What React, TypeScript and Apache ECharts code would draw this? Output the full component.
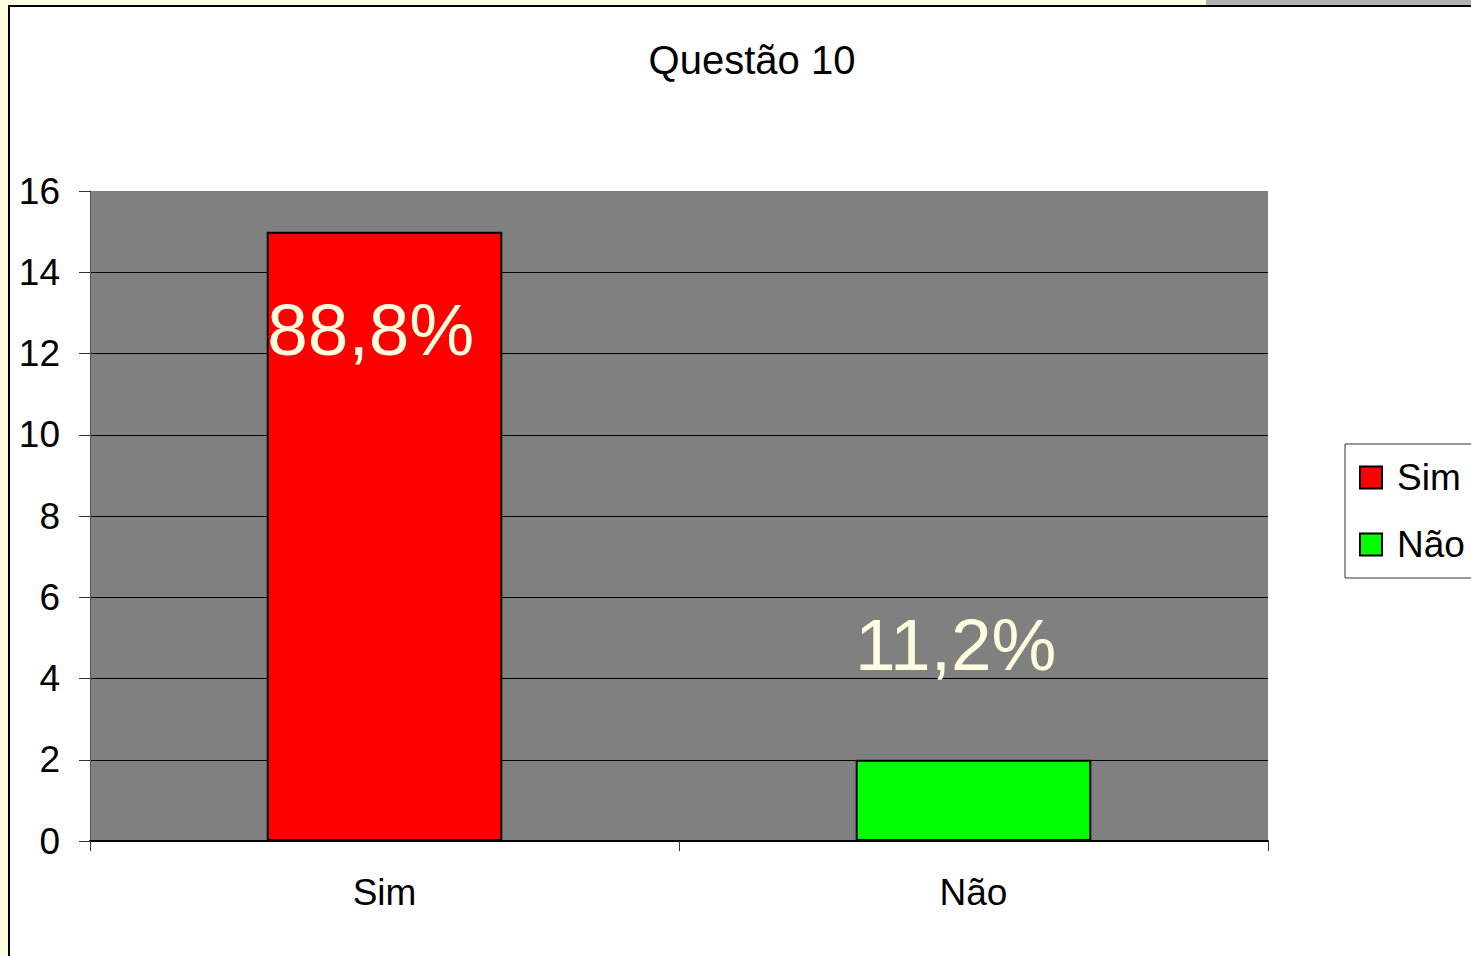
import React, { useEffect, useRef } from "react";
import * as echarts from "echarts";

const categories = ["Sim", "Não"];
const simValues = [15, "-"];
const naoValues = ["-", 2];
const pctLabels = ["88,8%", "11,2%"];
const titleText = "Questão 10";

export default function App() {
  const ref = useRef<HTMLDivElement>(null);
  useEffect(() => {
    if (!ref.current) return;
    const chart = echarts.init(ref.current, null, { renderer: "svg" });
    const font = "'Liberation Sans', Arial, Helvetica, sans-serif";
    const splitColors = ["#000", "#000", "#000", "#000", "#000", "#000", "#000", "#000", "#808080"];
    chart.setOption({
      animation: false,
      backgroundColor: "#FFFFE0",
      textStyle: { fontFamily: font },
      graphic: [
        { type: "rect", z: -10, shape: { x: 1206, y: 0, width: 270, height: 6 }, style: { fill: "#B2B2B2" } },
        { type: "rect", z: -9, shape: { x: 9, y: 6, width: 1480, height: 970 }, style: { fill: "#FFFFFF", stroke: "#000", lineWidth: 2 } },
      ],
      title: {
        text: titleText,
        left: 747,
        textAlign: "center",
        top: 35,
        textStyle: { fontSize: 40, fontWeight: "normal", color: "#000", fontFamily: font },
      },
      legend: {
        data: categories,
        orient: "vertical",
        left: 1345,
        top: 444,
        padding: [15, 20, 15, 14],
        itemWidth: 22,
        itemHeight: 22,
        itemGap: 30,
        icon: "rect",
        borderColor: "#333",
        borderWidth: 1,
        backgroundColor: "#FFFFFF",
        textStyle: { fontSize: 37, color: "#000", fontFamily: font, padding: [0, 0, 0, 10] },
      },
      grid: {
        left: 90,
        top: 191,
        right: 203,
        bottom: 115,
        show: true,
        backgroundColor: "#808080",
        borderWidth: 0,
      },
      xAxis: {
        type: "category",
        data: categories,
        axisLine: { show: true, lineStyle: { color: "#000", width: 2 } },
        axisTick: { show: true, length: 10, lineStyle: { color: "#333" } },
        axisLabel: { fontSize: 37, color: "#000", margin: 33, fontFamily: font },
      },
      yAxis: {
        type: "value",
        min: 0,
        max: 16,
        interval: 2,
        axisLine: { show: true, lineStyle: { color: "#555" } },
        axisTick: { show: true, length: 11, lineStyle: { color: "#333" } },
        axisLabel: { fontSize: 37, color: "#000", margin: 30, fontFamily: font },
        splitLine: { show: true, lineStyle: { color: splitColors, width: 1 } },
      },
      series: [
        {
          name: categories[0],
          type: "bar",
          stack: "t",
          barWidth: "40%",
          data: simValues,
          itemStyle: { color: "#FF0000", borderColor: "#000", borderWidth: 2 },
          label: {
            show: true,
            formatter: () => pctLabels[0],
            position: [104, 98],
            align: "center",
            verticalAlign: "middle",
            fontSize: 73,
            color: "#FFFFE0",
            fontFamily: font,
          },
        },
        {
          name: categories[1],
          type: "bar",
          stack: "t",
          barWidth: "40%",
          data: naoValues,
          itemStyle: { color: "#00FF00", borderColor: "#000", borderWidth: 2 },
          label: {
            show: true,
            formatter: () => pctLabels[1],
            position: [100, -115],
            align: "center",
            verticalAlign: "middle",
            fontSize: 73,
            color: "#FFFFE0",
            fontFamily: font,
          },
        },
      ],
    });
    return () => chart.dispose();
  }, []);
  return (
    <div
      ref={ref}
      style={{ position: "fixed", left: 0, top: 0, width: 1471, height: 956 }}
    />
  );
}
